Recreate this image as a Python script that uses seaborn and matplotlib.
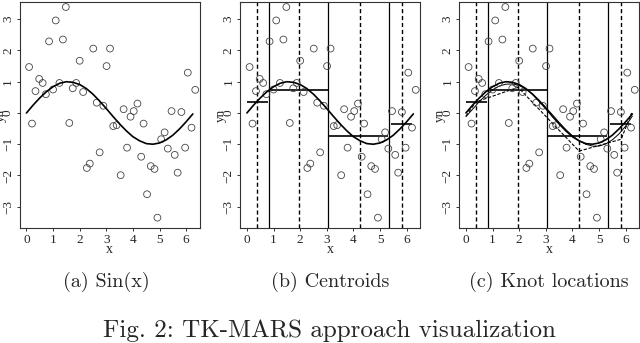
import numpy as np
import pandas as pd
import matplotlib
matplotlib.use("Agg")
import matplotlib.pyplot as plt
import seaborn as sns

# observed noisy points
x_vals = [0.10, 0.21, 0.34, 0.48, 0.61, 0.73, 0.85, 1.00, 1.10, 1.24,
          1.37, 1.48, 1.61, 1.74, 1.87, 2.00, 2.13, 2.27, 2.38, 2.51,
          2.64, 2.75, 2.89, 3.01, 3.14, 3.26, 3.39, 3.54, 3.65, 3.78,
          3.91, 4.03, 4.17, 4.31, 4.40, 4.53, 4.67, 4.81, 4.92, 5.06,
          5.19, 5.31, 5.45, 5.57, 5.68, 5.82, 5.96, 6.06, 6.20, 6.34]
yn_vals = [1.47, -0.34, 0.70, 1.09, 0.96, 0.60, 2.29, 0.75, 2.96, 0.96,
           2.35, 3.39, -0.32, 0.79, 0.96, 1.67, 0.67, -1.76, -1.62, 2.06,
           0.33, -1.26, 0.23, 1.50, 2.06, -0.42, -0.39, -1.99, 0.12, -1.11,
           -0.12, 0.06, 0.30, -1.40, -0.34, -2.60, -1.70, -1.79, -3.35, -0.84,
           -0.62, -1.14, 0.06, -1.34, -1.91, 0.03, -1.11, 1.29, -0.47, 0.74]

# true curve and smoothed fit
curve_x = [0.0, 0.25, 0.5, 0.75, 1.0, 1.25, 1.5, 1.75, 2.0, 2.25, 2.5, 2.75, 3.0,
           3.25, 3.5, 3.75, 4.0, 4.25, 4.5, 4.75, 5.0, 5.25, 5.5, 5.75, 6.0, 6.25]
sine_y = [0.0, 0.25, 0.48, 0.68, 0.84, 0.95, 1.0, 0.98, 0.91, 0.78, 0.60, 0.38, 0.14,
          -0.11, -0.35, -0.57, -0.76, -0.89, -0.98, -1.0, -0.96, -0.86, -0.71, -0.51, -0.28, -0.03]
fit_y = [-0.12, 0.12, 0.36, 0.57, 0.74, 0.86, 0.92, 0.93, 0.88, 0.77, 0.61, 0.41, 0.18,
         -0.06, -0.30, -0.53, -0.73, -0.89, -1.00, -1.06, -1.06, -0.99, -0.86, -0.67, -0.42, -0.10]

# knots, centroids, piecewise linear
solid_knots = [0.82, 3.05, 5.35]
dashed_knots = [0.37, 1.96, 4.25, 5.83]
seg_x0 = [0.0, 0.85, 3.10, 5.40]
seg_x1 = [0.78, 3.05, 5.30, 6.20]
seg_y = [0.36, 0.74, -0.75, -0.36]
pw_x = [0.0, 0.37, 1.96, 4.25, 5.83, 6.22]
pw_y = [-0.10, 0.35, 0.82, -1.22, -0.84, 0.0]

captions = ["(a) Sin(x)", "(b) Centroids", "(c) Knot locations"]
fig_caption = "Fig. 2: TK-MARS approach visualization"

pts = pd.DataFrame({"x": x_vals, "yn": yn_vals})
curve = pd.DataFrame({"x": curve_x, "sine": sine_y, "fit": fit_y})

sns.set_style("ticks")
plt.rcParams["font.family"] = ["Liberation Serif", "DejaVu Serif"]

fig = plt.figure(figsize=(6.4, 3.43), dpi=100)
lefts = [19.5, 240, 459]
axes = [fig.add_axes([l / 640, 115 / 343, 180 / 640, 226 / 343]) for l in lefts]

for i, ax in enumerate(axes):
    sns.scatterplot(data=pts, x="x", y="yn", ax=ax, s=24, facecolor="none",
                    edgecolor="#444444", linewidth=0.6, zorder=3)
    sns.lineplot(data=curve, x="x", y="sine", ax=ax, color="black", lw=1.2,
                 zorder=4)
    if i >= 1:
        for k in solid_knots:
            ax.axvline(k, color="black", lw=0.9)
        for k in dashed_knots:
            ax.axvline(k, color="black", lw=1.0, ls=(0, (3, 2)))
        ax.hlines(seg_y, seg_x0, seg_x1, color="black", lw=1.2)
    if i == 2:
        sns.lineplot(data=curve, x="x", y="fit", ax=ax, color="black", lw=0.7)
        sns.lineplot(x=pw_x, y=pw_y, ax=ax, color="black", lw=0.8,
                     ls=(0, (3, 1.5)))

    ax.set_xlim(-0.26, 6.5)
    ax.set_ylim(-3.68, 3.55)
    ax.set_xticks(range(0, 7))
    ax.set_yticks(range(-3, 4))
    ax.set_yticklabels(["\u22123", "\u22122", "\u22121", "0", "1", "2", "3"],
                       rotation=90, va="center")
    ax.tick_params(length=2.5, width=0.7, labelsize=9.5, pad=1.5, color="#333333")
    for sp in ax.spines.values():
        sp.set_linewidth(0.8)
        sp.set_color("#333333")
    ax.set_xlabel("x", fontsize=10)
    ax.set_ylabel("yn", fontsize=9.5)
    ax.xaxis.set_label_coords(0.5, -0.065)
    ax.yaxis.set_label_coords(-0.072, 0.5)
    fig.text((lefts[i] + 90) / 640 + (-0.005 if i == 0 else 0.0), 1 - 282 / 343,
             captions[i], ha="center", va="center", fontsize=14.5, family="cmr10")

fig.text(329 / 640, 1 - 331 / 343, fig_caption, ha="center", va="center",
         fontsize=18, family="cmr10")

fig.savefig("out.png", dpi=100)
